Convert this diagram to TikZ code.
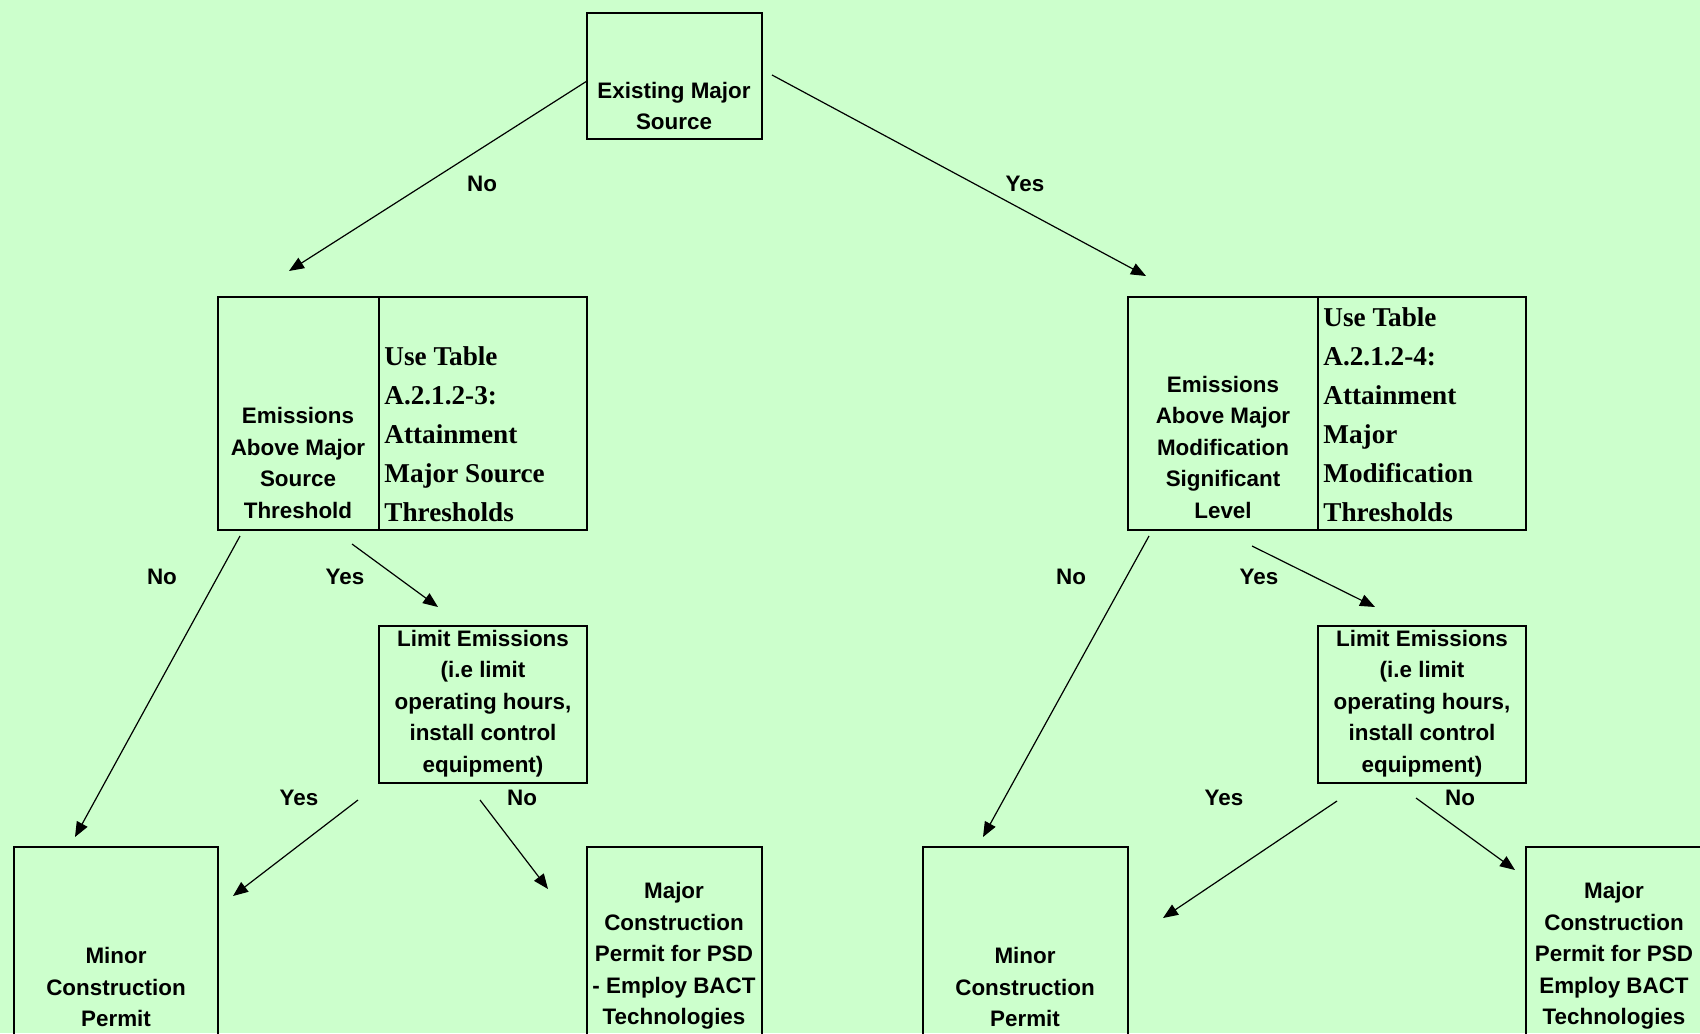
\documentclass[tikz,border=0pt]{standalone}
\usepackage{fontspec}
\setmainfont{Liberation Sans}
\newfontfamily\tnr{Liberation Serif}
\usetikzlibrary{arrows.meta,fit}
\definecolor{bg}{HTML}{CCFFCC}
\begin{document}
\begin{tikzpicture}[x=0.5pt,y=-0.5pt,
  box/.style={draw, line width=1pt, inner sep=0pt},
  txt/.style={font=\bfseries\fontsize{11.2}{15.75}\selectfont, align=center, inner sep=0pt},
  serif/.style={font=\tnr\bfseries\fontsize{13.6}{19.5}\selectfont, align=left, inner sep=0pt, anchor=west},
  lab/.style={font=\bfseries\fontsize{11.2}{13}\selectfont, inner sep=0pt},
  arr/.style={line width=0.6pt, -{Triangle[length=7.5pt,width=6pt]}}]
\useasboundingbox (0,0) rectangle (1700,1033);
\clip (0,0) rectangle (1700,1033);
\fill[bg] (0,0) rectangle (1700,1033);

% boxes
\node[box, fit={(587,13) (762,139)}] (top) {};
\node[box, fit={(218,297) (379,530)}] (lmidL) {};
\node[box, fit={(379,297) (587,530)}] (lmidR) {};
\node[box, fit={(1128,297) (1318,530)}] (rmidL) {};
\node[box, fit={(1318,297) (1526,530)}] (rmidR) {};
\node[box, fit={(379,626) (587,783)}] (llim) {};
\node[box, fit={(1318,626) (1526,783)}] (rlim) {};
\node[box, fit={(14,847) (218,1060)}] (lminor) {};
\node[box, fit={(587,847) (762,1060)}] (lmajor) {};
\node[box, fit={(923,847) (1128,1060)}] (rminor) {};
\node[box, fit={(1526,847) (1702,1060)}] (rmajor) {};

% texts
\node[txt] (ttop) at (674,106) {Existing Major\\Source};
\node[txt] (tlmidL) at (298,463) {Emissions\\Above Major\\Source\\Threshold};
\node[serif] (tlmidR) at (384,434) {Use Table\\A.2.1.2-3:\\Attainment\\Major Source\\Thresholds};
\node[txt] (trmidL) at (1223,447) {Emissions\\Above Major\\Modification\\Significant\\Level};
\node[serif] (trmidR) at (1323,414.5) {Use Table\\A.2.1.2-4:\\Attainment\\Major\\Modification\\Thresholds};
\node[txt] (tllim) at (483,703.5) {Limit Emissions\\(i.e limit\\operating hours,\\install control\\equipment)};
\node[txt] (trlim) at (1422,703.5) {Limit Emissions\\(i.e limit\\operating hours,\\install control\\equipment)};
\node[txt] (tlminor) at (116,987) {Minor\\Construction\\Permit};
\node[txt] (tlmajor) at (674,956) {Major\\Construction\\Permit for PSD\\- Employ BACT\\Technologies};
\node[txt] (trminor) at (1025,987) {Minor\\Construction\\Permit};
\node[txt] (trmajor) at (1614,956) {Major\\Construction\\Permit for PSD\\Employ BACT\\Technologies};

% connector end points
\coordinate (a1s) at (587,81);   \coordinate (a1e) at (289,271);
\coordinate (a2s) at (772,75);   \coordinate (a2e) at (1146,276);
\coordinate (a3s) at (240,536);  \coordinate (a3e) at (75,837);
\coordinate (a4s) at (352,544);  \coordinate (a4e) at (438,607);
\coordinate (a5s) at (358,800);  \coordinate (a5e) at (233,896);
\coordinate (a6s) at (480,800);  \coordinate (a6e) at (548,889);
\coordinate (a7s) at (1149,536); \coordinate (a7e) at (983,837);
\coordinate (a8s) at (1252,546); \coordinate (a8e) at (1375,607);
\coordinate (a9s) at (1337,801); \coordinate (a9e) at (1163,918);
\coordinate (a10s) at (1416,798); \coordinate (a10e) at (1515,870);

\draw[arr] (a1s) -- (a1e);
\draw[arr] (a2s) -- (a2e);
\draw[arr] (a3s) -- (a3e);
\draw[arr] (a4s) -- (a4e);
\draw[arr] (a5s) -- (a5e);
\draw[arr] (a6s) -- (a6e);
\draw[arr] (a7s) -- (a7e);
\draw[arr] (a8s) -- (a8e);
\draw[arr] (a9s) -- (a9e);
\draw[arr] (a10s) -- (a10e);

% labels
\node[lab] (l1) at (482,184) {No};
\node[lab] (l2) at (1025,184) {Yes};
\node[lab] (l3) at (162,577) {No};
\node[lab] (l4) at (345,577) {Yes};
\node[lab] (l5) at (299,798) {Yes};
\node[lab] (l6) at (522,798) {No};
\node[lab] (l7) at (1071,577) {No};
\node[lab] (l8) at (1259,577) {Yes};
\node[lab] (l9) at (1224,798) {Yes};
\node[lab] (l10) at (1460,798) {No};
\end{tikzpicture}
\end{document}
